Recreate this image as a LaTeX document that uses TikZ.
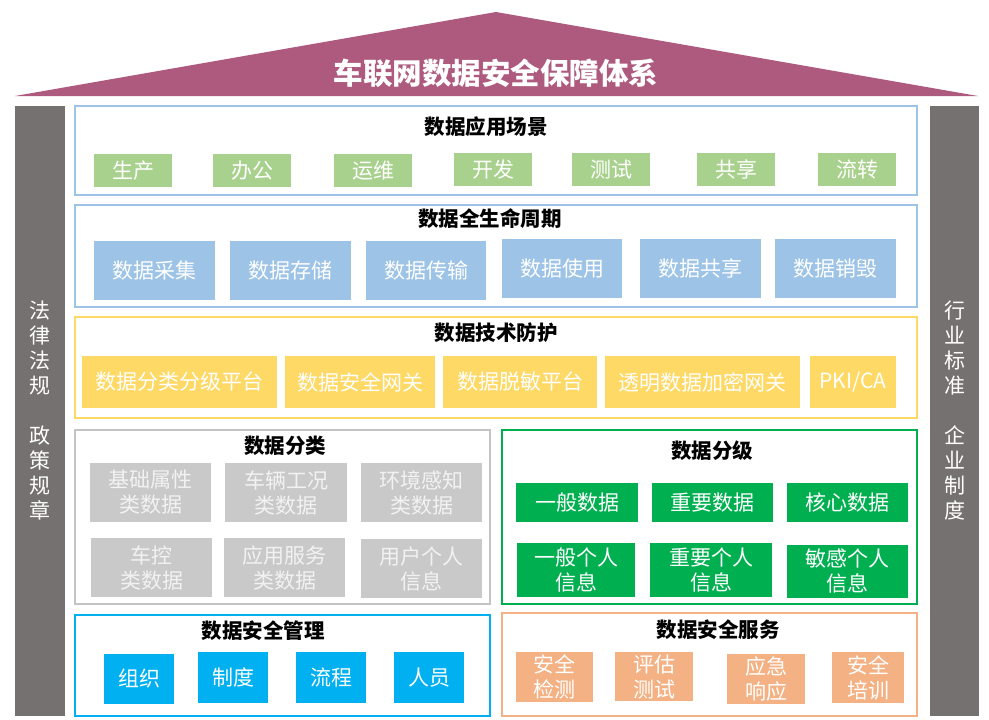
\documentclass[tikz,border=0pt]{standalone}
\usepackage{fontspec}
\setmainfont{Noto Sans CJK SC}
\definecolor{roofc}{HTML}{AE5A7E}
\definecolor{pillarc}{HTML}{767171}
\definecolor{lblue}{HTML}{9DC3E6}
\definecolor{lgreen}{HTML}{A9D18E}
\definecolor{lyellow}{HTML}{FFD966}
\definecolor{lgray}{HTML}{C9C9C9}
\definecolor{frgray}{HTML}{C4C4C4}
\definecolor{dgreen}{HTML}{00B050}
\definecolor{cyanc}{HTML}{00B0F0}
\definecolor{lorange}{HTML}{F4B183}
\definecolor{offwhite}{HTML}{F2F2F2}
\newcommand\bx[7]{\node[#6, minimum width={#4-#2}, minimum height={#5-#3}] (#1) at ({(#2+#4)/2},{(#3+#5)/2}) {#7};}
\tikzset{
  base/.style={inner sep=0pt, outer sep=0pt, align=center, font=\fontsize{21}{25}\selectfont},
  frame/.style={base, draw=#1, line width=2pt},
  item/.style={base, fill=#1, text=white},
  ttl/.style={inner sep=0pt, font=\fontsize{20.5}{24}\selectfont\bfseries, text=black},
}
\begin{document}
\begin{tikzpicture}[x=1pt,y=-1pt]
\useasboundingbox (0,0) rectangle (989,720);
% roof
\fill[roofc] (15,96) -- (496,12) -- (978,96) -- cycle;
\node[inner sep=0pt, text=white, font=\fontsize{29.5}{34}\selectfont\bfseries] (title) at (496,73) {车联网数据安全保障体系};
% pillars
\bx{lp}{15}{106}{65}{716}{item=pillarc}{法\\律\\法\\规\\[25pt]政\\策\\规\\章}
\bx{rp}{930}{106}{979}{716}{item=pillarc}{行\\业\\标\\准\\[25pt]企\\业\\制\\度}
% row 1: 数据应用场景
\bx{f1}{75}{106}{917}{195}{frame=lblue}{}
\node[ttl] (t1) at (486,127) {数据应用场景};
\bx{a1}{94}{154}{172}{187}{item=lgreen}{生产}
\bx{a2}{213}{154}{291}{187}{item=lgreen}{办公}
\bx{a3}{334}{154}{412}{187}{item=lgreen}{运维}
\bx{a4}{454}{153}{532}{186}{item=lgreen}{开发}
\bx{a5}{572}{153}{650}{186}{item=lgreen}{测试}
\bx{a6}{697}{153}{775}{186}{item=lgreen}{共享}
\bx{a7}{818}{153}{896}{186}{item=lgreen}{流转}
% row 2: 数据全生命周期
\bx{f2}{75}{205}{917}{307}{frame=lblue}{}
\node[ttl] (t2) at (490,219) {数据全生命周期};
\bx{b1}{94}{241}{215}{300}{item=lblue}{数据采集}
\bx{b2}{230}{241}{351}{300}{item=lblue}{数据存储}
\bx{b3}{366}{241}{486}{300}{item=lblue}{数据传输}
\bx{b4}{502}{239}{622}{298}{item=lblue}{数据使用}
\bx{b5}{640}{239}{761}{298}{item=lblue}{数据共享}
\bx{b6}{775}{239}{896}{298}{item=lblue}{数据销毁}
% row 3: 数据技术防护
\bx{f3}{75}{317}{917}{418}{frame=lyellow}{}
\node[ttl] (t3) at (496,333) {数据技术防护};
\bx{c1}{82}{356}{277}{408}{item=lyellow}{数据分类分级平台}
\bx{c2}{285}{356}{435}{408}{item=lyellow}{数据安全网关}
\bx{c3}{443}{356}{597}{408}{item=lyellow}{数据脱敏平台}
\bx{c4}{605}{356}{800}{408}{item=lyellow}{透明数据加密网关}
\bx{c5}{810}{356}{896}{408}{item=lyellow}{PKI/CA}
% 数据分类
\bx{f4}{75}{430}{490}{604}{frame=frgray}{}
\node[ttl] (t4) at (285,446) {数据分类};
\bx{d1}{90}{463}{211}{522}{item=lgray,text=offwhite}{基础属性\\类数据}
\bx{d2}{225}{463}{347}{522}{item=lgray,text=offwhite}{车辆工况\\类数据}
\bx{d3}{361}{463}{482}{522}{item=lgray,text=offwhite}{环境感知\\类数据}
\bx{d4}{91}{538}{212}{597}{item=lgray,text=offwhite}{车控\\类数据}
\bx{d5}{224}{538}{345}{597}{item=lgray,text=offwhite}{应用服务\\类数据}
\bx{d6}{361}{539}{482}{598}{item=lgray,text=offwhite}{用户个人\\信息}
% 数据分级
\bx{f5}{502}{430}{917}{604}{frame=dgreen}{}
\node[ttl] (t5) at (712,451) {数据分级};
\bx{e1}{516}{483}{638}{522}{item=dgreen}{一般数据}
\bx{e2}{652}{483}{773}{522}{item=dgreen}{重要数据}
\bx{e3}{787}{483}{908}{522}{item=dgreen}{核心数据}
\bx{e4}{517}{543}{635}{597}{item=dgreen}{一般个人\\信息}
\bx{e5}{650}{543}{772}{597}{item=dgreen}{重要个人\\信息}
\bx{e6}{787}{545}{908}{598}{item=dgreen}{敏感个人\\信息}
% 数据安全管理
\bx{f6}{75}{615}{490}{716}{frame=cyanc}{}
\node[ttl] (t6) at (263,631) {数据安全管理};
\bx{g1}{104}{654}{174}{704}{item=cyanc}{组织}
\bx{g2}{198}{652}{268}{703}{item=cyanc}{制度}
\bx{g3}{296}{652}{366}{703}{item=cyanc}{流程}
\bx{g4}{394}{652}{464}{703}{item=cyanc}{人员}
% 数据安全服务
\bx{f7}{502}{613}{917}{716}{frame=lorange}{}
\node[ttl] (t7) at (718,630) {数据安全服务};
\bx{h1}{516}{652}{593}{702}{item=lorange}{安全\\检测}
\bx{h2}{615}{652}{693}{701}{item=lorange}{评估\\测试}
\bx{h3}{727}{654}{805}{704}{item=lorange}{应急\\响应}
\bx{h4}{832}{652}{904}{703}{item=lorange}{安全\\培训}
\end{tikzpicture}
\end{document}
